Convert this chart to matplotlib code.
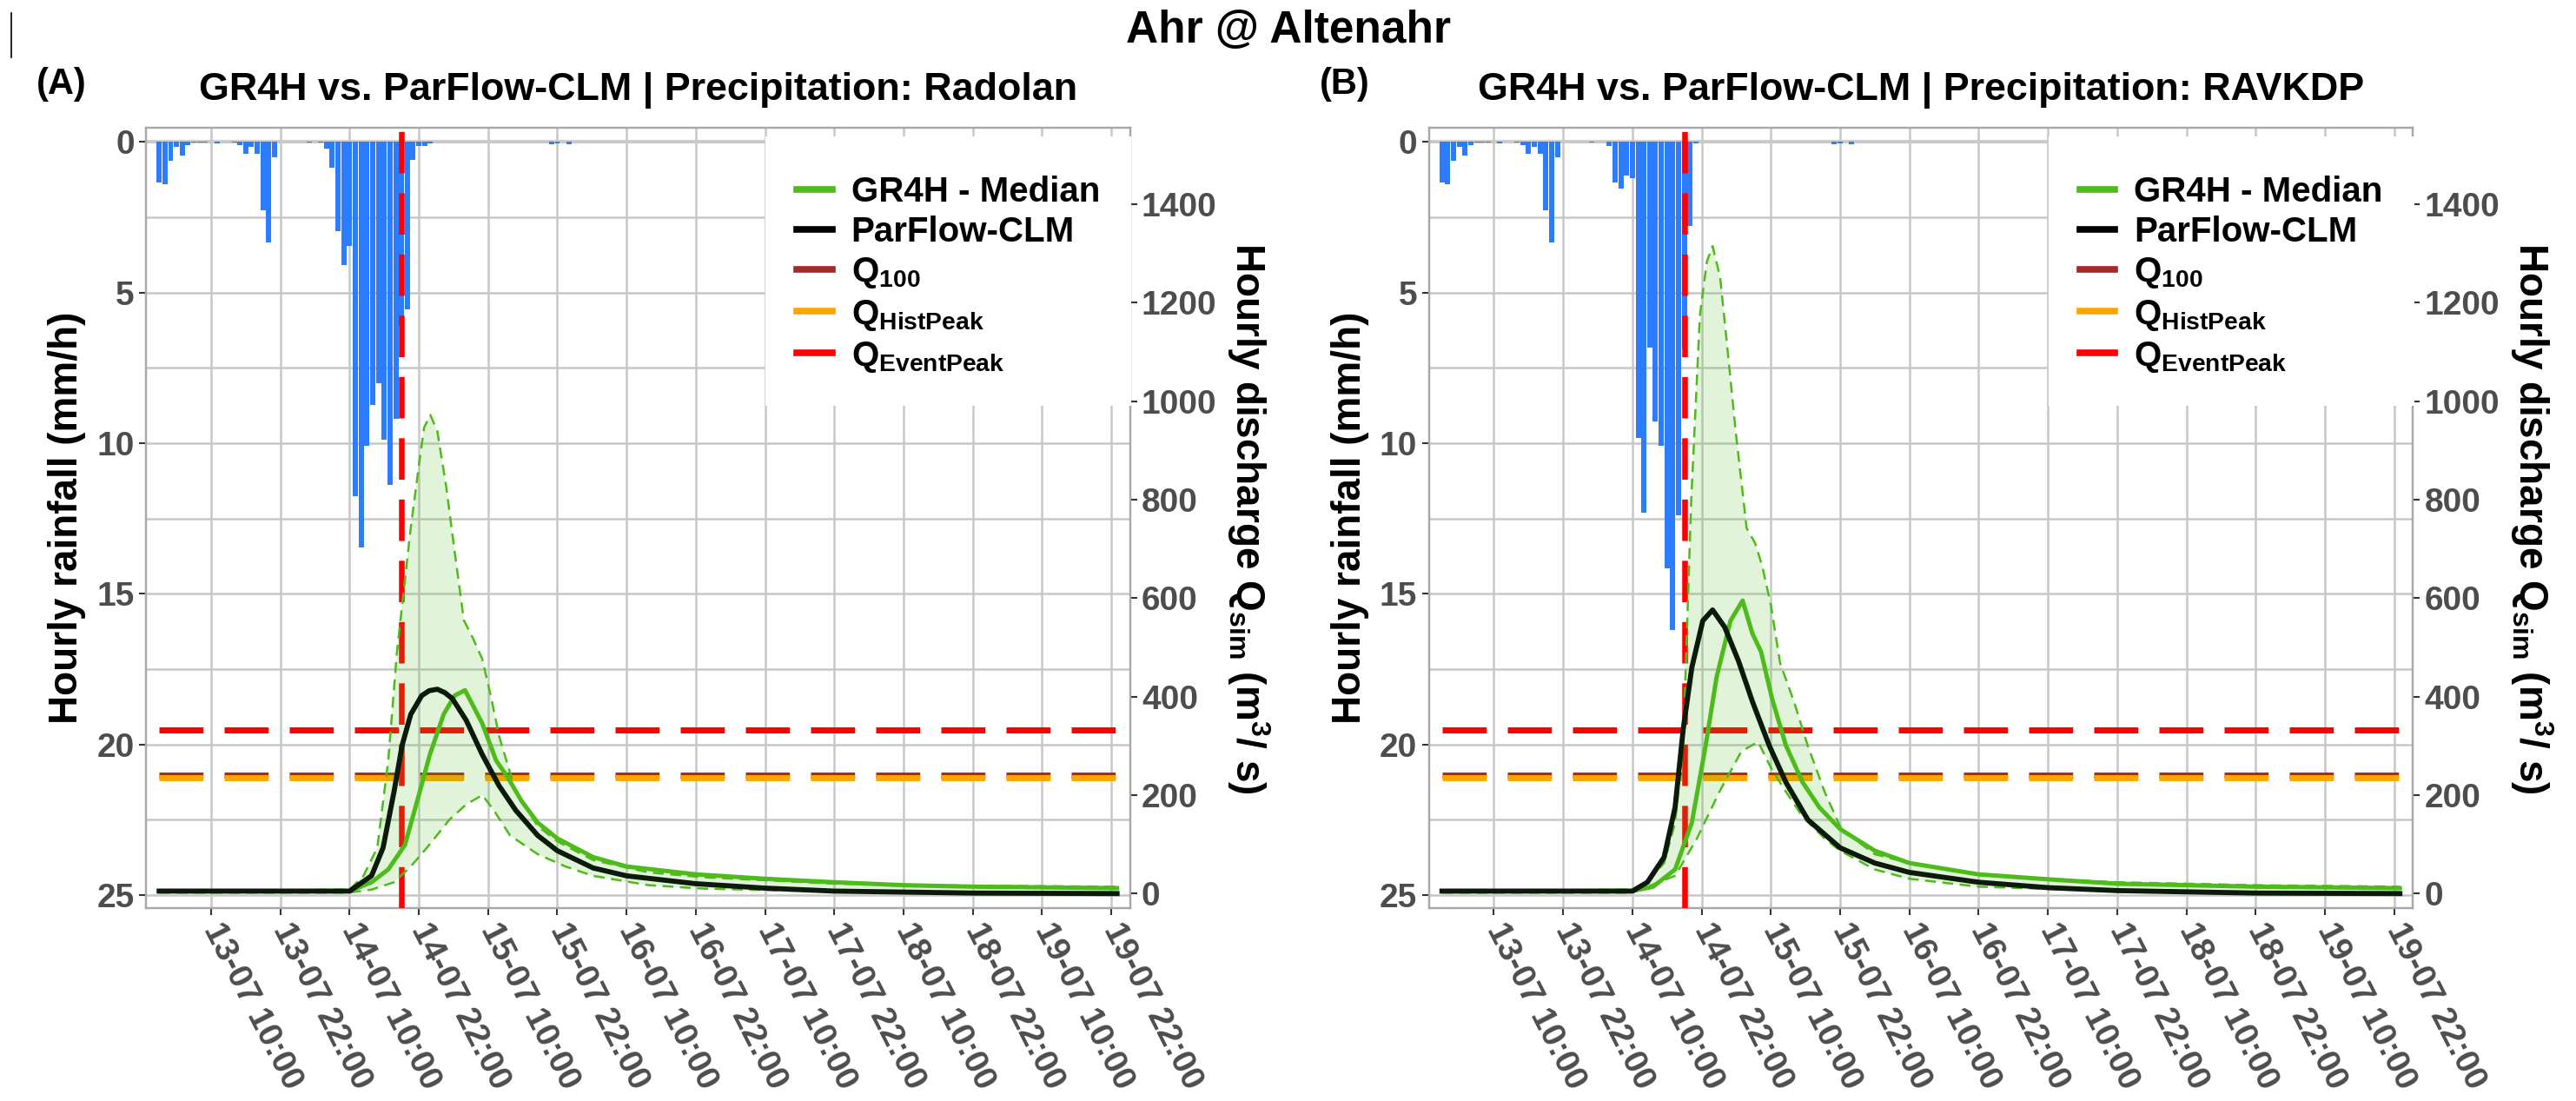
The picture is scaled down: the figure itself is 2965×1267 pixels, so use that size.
import numpy as np
import matplotlib
matplotlib.use("Agg")
import matplotlib.pyplot as plt
from matplotlib.lines import Line2D

plt.rcParams['font.family'] = ['Liberation Sans', 'DejaVu Sans']
plt.rcParams['font.weight'] = 'bold'
plt.rcParams['axes.labelweight'] = 'bold'
plt.rcParams['mathtext.fontset'] = 'custom'
plt.rcParams['mathtext.rm'] = 'Liberation Sans'
plt.rcParams['mathtext.bf'] = 'Liberation Sans:bold'

# ---- data (time = hours since 13-07 00:00) ----
rain_hours = list(range(1, 73))
rain_radolan = [1.35, 1.41, 0.62, 0.17, 0.46, 0.10, 0.03, 0.02, 0.02, 0.0,
                0.05, 0.0, 0.0, 0.02, 0.10, 0.39, 0.17, 0.39, 2.26, 3.35,
                0.51, 0.0, 0.0, 0.0, 0.0, 0.0, 0.02, 0.0, 0.02, 0.23,
                0.85, 2.96, 4.09, 3.46, 11.77, 13.47, 10.10, 8.73, 8.02, 9.87,
                11.38, 9.18, 6.10, 5.57, 0.59, 0.13, 0.13, 0.04, 0.0, 0.0,
                0.0, 0.0, 0.0, 0.0, 0.0, 0.0, 0.0, 0.0, 0.0, 0.0,
                0.0, 0.0, 0.0, 0.0, 0.0, 0.0, 0.0, 0.0, 0.09, 0.04,
                0.0, 0.09]
rain_ravkdp = [1.35, 1.41, 0.62, 0.17, 0.46, 0.10, 0.03, 0.02, 0.02, 0.0,
               0.05, 0.0, 0.0, 0.02, 0.10, 0.39, 0.17, 0.39, 2.26, 3.35,
               0.51, 0.0, 0.0, 0.0, 0.0, 0.0, 0.02, 0.0, 0.0, 0.13,
               1.35, 1.54, 1.13, 1.20, 9.83, 12.31, 6.83, 9.27, 10.09, 14.15,
               16.21, 12.38, 6.85, 2.80, 0.04, 0.0, 0.0, 0.0, 0.0, 0.0,
               0.0, 0.0, 0.0, 0.0, 0.0, 0.0, 0.0, 0.0, 0.0, 0.0,
               0.0, 0.0, 0.0, 0.0, 0.0, 0.0, 0.0, 0.0, 0.09, 0.04,
               0.0, 0.09]

# panel A (Radolan)
pf_a_t = [1, 34, 37.8, 39.8, 41.7, 43.1, 44.6, 46.5, 47.8, 49.2, 50.5, 51.8, 54.2, 57, 59.9,
          62.8, 66.6, 70, 76.2, 82, 94, 106, 118, 142, 167]
pf_a_q = [5, 5, 36, 93, 207, 301, 364, 402, 412, 415, 408, 396, 352, 282, 219,
          169, 118, 87, 52, 36, 20, 11, 5, 1, 0]
gr_a_t = [1, 34, 37.8, 40.7, 43.6, 46, 47.9, 50.3, 52.2, 54, 55.6, 57, 59.4, 61.3, 63.8,
          66.6, 70, 76.2, 82, 94, 106, 118, 130, 142, 167]
gr_a_q = [5, 5, 23, 49, 99, 200, 282, 364, 402, 413, 377, 345, 270, 238, 188,
          144, 112, 74, 55, 39, 30, 23, 17, 14, 11]
up_a_t = [1, 34, 36.4, 38.8, 40.7, 42.2, 43.4, 44.6, 46, 46.9, 48, 49.2, 50.7, 52.2, 53.8,
          55.4, 57, 58.5, 59.9, 62.8, 66.6, 70, 76.2, 85.8, 95.4, 106, 118, 142, 167]
up_a_q = [5, 8, 36, 93, 270, 490, 617, 743, 869, 946, 972, 939, 830, 695, 555,
          518, 476, 400, 320, 207, 137, 106, 68, 43, 33, 27, 20, 16, 14]
lo_a_t = [1, 34, 37.8, 41.7, 44.6, 47.4, 51.3, 54.2, 57, 59, 61.8, 66.6, 71.4, 76.2,
          85.8, 95.4, 118, 167]
lo_a_q = [2, 2, 8, 23, 55, 93, 150, 181, 200, 169, 118, 80, 55, 36,
          17, 10, 4, 2]

# panel B (RAVKDP)
pf_b_t = [1, 34, 36.6, 39.5, 41.4, 42.8, 44.3, 46.2, 47.9, 50, 52.4, 54.8, 57.7, 60.6,
          64.4, 70, 76, 82, 94, 106, 118, 142, 167]
pf_b_q = [5, 5, 23, 74, 175, 333, 459, 554, 576, 541, 472, 390, 301, 226,
          150, 93, 62, 43, 23, 12, 6, 1, 0]
gr_b_t = [1, 34, 37.6, 41.4, 44.3, 46.7, 48.6, 51, 53.1, 54.8, 56.3, 58.2, 60.6, 63.5,
          66.4, 70, 76, 82, 94, 106, 118, 142, 167]
gr_b_q = [5, 5, 14, 49, 144, 301, 440, 554, 595, 528, 491, 396, 301, 226,
          175, 131, 87, 62, 39, 29, 20, 14, 11]
up_b_t = [1, 34, 36.6, 39.5, 41.4, 42.8, 44.2, 45.7, 46.9, 47.9, 49.2, 50.3, 51.9, 53.8,
          55.3, 56.5, 58, 59.6, 62, 64.4, 67.3, 70.2, 76, 82, 94, 106, 118, 142, 167]
up_b_q = [5, 8, 23, 62, 144, 301, 800, 1174, 1283, 1315, 1252, 1127, 939, 742,
          711, 665, 586, 468, 390, 300, 207, 131, 80, 62, 39, 30, 23, 17, 14]
lo_b_t = [1, 34, 41.4, 45.2, 49.1, 52.9, 55.8, 58.2, 60.6, 63.5, 67.3, 70, 76, 82,
          94, 118, 167]
lo_b_q = [2, 2, 36, 112, 207, 289, 308, 251, 207, 156, 112, 87, 49, 30,
          14, 5, 2]

q100 = 241
q_hist = 236
q_event = 332
event_time = 43
line_span = [1, 167]

tick_hours = [10, 22, 34, 46, 58, 70, 82, 94, 106, 118, 130, 142, 154, 166]
tick_labels = ['13-07 10:00', '13-07 22:00', '14-07 10:00', '14-07 22:00',
               '15-07 10:00', '15-07 22:00', '16-07 10:00', '16-07 22:00',
               '17-07 10:00', '17-07 22:00', '18-07 10:00', '18-07 22:00',
               '19-07 10:00', '19-07 22:00']
q_ticks = [0, 200, 400, 600, 800, 1000, 1200, 1400]
rain_ticks = [0, 5, 10, 15, 20, 25]

GREEN = '#4DBB1A'
BLUE = '#2C7CFF'
GRID = '#C8C8C8'
TICKC = '#4D4D4D'

W, H = 2965, 1267
fig = plt.figure(figsize=(W / 100, H / 100), dpi=100)


def panel(left_px, rain, series, tag, title):
    pf_t, pf_q, gr_t, gr_q, up_t, up_q, lo_t, lo_q = series
    ax = fig.add_axes([left_px / W, 1 - 1045 / H, 1132.7 / W, 898.3 / H])
    ax2 = ax.twinx()

    ax.set_xlim(-1.29, 169.25)
    ax.set_ylim(25.43, -0.479)
    ax2.set_ylim(-29.5, 1555.8)

    ax.set_axisbelow(True)
    ax.set_yticks(rain_ticks)
    ax.set_yticks([2.5, 7.5, 12.5, 17.5, 22.5], minor=True)
    ax.grid(True, which='both', axis='y', color=GRID, lw=1.8)
    ax.grid(True, which='major', axis='x', color=GRID, lw=1.8)
    ax.tick_params(axis='y', which='minor', length=0)
    ax.axhline(0, color='#D0D0D0', lw=3, zorder=0.5)

    ax.bar(rain_hours, rain, width=0.9, color=BLUE, zorder=2)

    ax.set_xticks(tick_hours)
    ax.set_xticklabels(tick_labels, rotation=-63, ha='left', va='center',
                       rotation_mode='anchor')
    for a in (ax, ax2):
        a.tick_params(labelsize=28, labelcolor=TICKC, color='#333333',
                      length=6, width=1.5)
        for s in a.spines.values():
            s.set_color('#A8A8A8')
            s.set_linewidth(1.6)
    ax.tick_params(axis='x', pad=8)
    ax2.set_yticks(q_ticks)

    # thresholds
    ax2.plot(line_span, [q_event, q_event], color='red', lw=5, dashes=(7.3, 3.5),
             zorder=2)
    ax2.plot(line_span, [q100, q100], color='#A52A2A', lw=5, dashes=(7.3, 3.5),
             zorder=2)
    ax2.plot(line_span, [q_hist, q_hist], color='#FFA500', lw=5, dashes=(7.3, 3.5),
             zorder=2)
    ax2.axvline(event_time, color='red', lw=4.7, dashes=(7.3, 3.5), zorder=3)

    # GR4H range, median and ParFlow
    ax2.fill(up_t + lo_t[::-1], up_q + lo_q[::-1], color=GREEN, alpha=0.17,
             lw=0, zorder=4)
    ax2.plot(up_t, up_q, color=GREEN, lw=1.8, dashes=(5, 3), zorder=5)
    ax2.plot(lo_t, lo_q, color=GREEN, lw=1.8, dashes=(5, 3), zorder=5)
    ax2.plot(gr_t, gr_q, color=GREEN, lw=3.6, zorder=6)
    ax2.plot(pf_t, pf_q, color='#0B1A0B', lw=4.2, zorder=7)

    ax.set_ylabel('Hourly rainfall (mm/h)', fontsize=33, va='center')
    ax.yaxis.set_label_coords(-0.0803, 0.5)
    ax2.set_ylabel(r'Hourly discharge Q$_{\mathrm{sim}}$ (m$^{\mathrm{3}}$/ s)',
                   fontsize=33, rotation=-90, va='center')
    ax2.yaxis.set_label_coords(1.1203, 0.5)

    handles = [Line2D([], [], color=GREEN, lw=5.5),
               Line2D([], [], color='black', lw=5.5),
               Line2D([], [], color='#A52A2A', lw=5.5),
               Line2D([], [], color='#FFA500', lw=5.5),
               Line2D([], [], color='red', lw=5.5)]
    labels = ['GR4H - Median', 'ParFlow-CLM', r'Q$_{\mathrm{100}}$',
              r'Q$_{\mathbf{HistPeak}}$', r'Q$_{\mathbf{EventPeak}}$']
    leg = ax2.legend(handles, labels, loc='upper left',
                     bbox_to_anchor=(0.6295, 0.9885), borderaxespad=0,
                     frameon=True, facecolor='white', edgecolor='none',
                     framealpha=1, fancybox=False, borderpad=0.9,
                     labelspacing=0.2, handlelength=1.0, handletextpad=0.55,
                     title=' ', title_fontsize=1,
                     prop={'size': 29, 'weight': 'bold'})
    leg.set_zorder(10)

    cx = (left_px + left_px + 1132.7) / 2
    fig.text(cx / W, 1 - 104 / H, title, ha='center', va='center', fontsize=32.3)
    fig.text((left_px - 126) / W, 1 - 97 / H, tag, ha='left', va='center',
             fontsize=30)


panel(168, rain_radolan,
      (pf_a_t, pf_a_q, gr_a_t, gr_a_q, up_a_t, up_a_q, lo_a_t, lo_a_q),
      '(A)', 'GR4H vs. ParFlow-CLM | Precipitation: Radolan')
panel(1644.5, rain_ravkdp,
      (pf_b_t, pf_b_q, gr_b_t, gr_b_q, up_b_t, up_b_q, lo_b_t, lo_b_q),
      '(B)', 'GR4H vs. ParFlow-CLM | Precipitation: RAVKDP')

fig.text(0.5, 1 - 36 / H, 'Ahr @ Altenahr', ha='center', va='center', fontsize=37)
fig.add_artist(Line2D([13 / W, 13 / W], [1 - 15 / H, 1 - 66 / H], color='black',
                      lw=1.2))

fig.savefig('out.png', dpi=100)
